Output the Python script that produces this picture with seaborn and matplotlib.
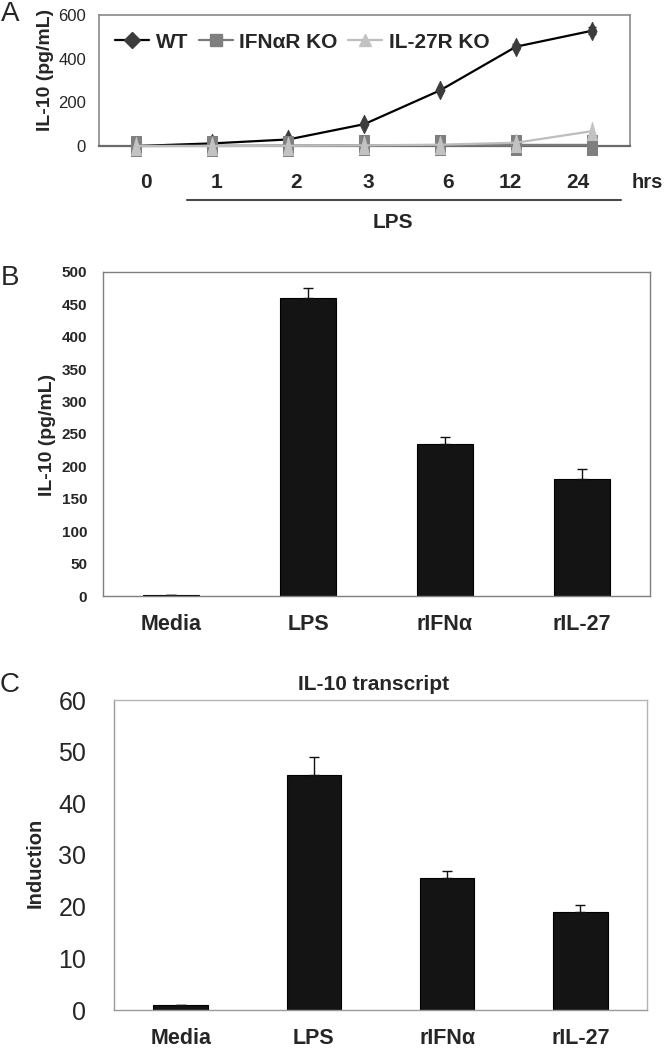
import numpy as np
import pandas as pd
import seaborn as sns
import matplotlib.pyplot as plt
from matplotlib import font_manager
from matplotlib.lines import Line2D

# ---- data ----
time_labels = ["0", "1", "2", "3", "6", "12", "24"]
strains = ["WT", "IFN\u03b1R KO", "IL-27R KO"]
il10_wt = [0, 12, 30, 100, 255, 455, 528]
il10_ifnar = [0, 1, 2, 3, 4, 5, 5]
il10_il27r = [0, 0, 1, 3, 6, 15, 68]
wt_err = [0, 0, 0, 0, 0, 10, 15]

treatments = ["Media", "LPS", "rIFN\u03b1", "rIL-27"]
protein = [2, 460, 235, 181]
protein_err = [0, 15, 10, 15]
induction = [1.0, 45.5, 25.5, 19.0]
induction_err = [0, 3.5, 1.5, 1.3]

sns.set_style("white")
names = {f.name for f in font_manager.fontManager.ttflist}
has_narrow = "Liberation Sans Narrow" in names
narrow = "Liberation Sans Narrow" if has_narrow else "Liberation Sans"
plt.rcParams["font.family"] = ["Liberation Sans", "DejaVu Sans"]

W, H = 666, 1050
fig = plt.figure(figsize=(W / 100, H / 100), dpi=100)


def ax_at(left, top, right, bottom):
    return fig.add_axes([left / W, 1 - bottom / H, (right - left) / W, (bottom - top) / H])


def ftext(x, y, s, **kw):
    fig.text(x / W, 1 - y / H, s, **kw)


def frame(ax, color, lw=1.0):
    for sp in ax.spines.values():
        sp.set_visible(True)
        sp.set_color(color)
        sp.set_linewidth(lw)


# ---------------- panel A ----------------
axA = ax_at(98.5, 15, 630, 146)
df_a = pd.DataFrame({
    "pos": np.tile(np.arange(len(time_labels)), 3),
    "il10": il10_wt + il10_ifnar + il10_il27r,
    "strain": np.repeat(strains, len(time_labels)),
})

tall_diamond = [(0, 1), (0.5, 0), (0, -1), (-0.5, 0), (0, 1)]
tall_square = [(-0.5, -1), (0.5, -1), (0.5, 1), (-0.5, 1), (-0.5, -1)]
tall_tri = [(-0.55, -1), (0.55, -1), (0, 1), (-0.55, -1)]
styles = {
    strains[0]: dict(color="black", marker=tall_diamond, markersize=13, mfc="#3c3c3c", mec="#3c3c3c"),
    strains[1]: dict(color="#7a7a7a", marker=tall_square, markersize=15, mfc="#7f7f7f", mec="#7f7f7f"),
    strains[2]: dict(color="#bdbdbd", marker=tall_tri, markersize=13, mfc="#c2c2c2", mec="#c2c2c2"),
}
for i, s in enumerate(strains):
    sub = df_a[df_a["strain"] == s]
    sns.lineplot(data=sub, x="pos", y="il10", ax=axA, errorbar=None, legend=False,
                 lw=1.6, clip_on=False, zorder=3 + i, **styles[s])
axA.errorbar(np.arange(len(time_labels)), il10_wt, yerr=wt_err, fmt="none",
             ecolor="#222222", elinewidth=1, capsize=3, zorder=2)

axA.set_xlim(-0.5, len(time_labels) - 0.5)
axA.set_ylim(0, 600)
axA.set_yticks([0, 200, 400, 600])
axA.set_xticks(np.arange(-0.5, len(time_labels), 1.0))
axA.set_xticklabels([])
axA.set_xlabel("")
axA.set_ylabel("")
frame(axA, "#8a8a8a", 1.2)
axA.spines["bottom"].set_color("#6a6a6a")
axA.spines["bottom"].set_linewidth(1.6)
axA.tick_params(axis="y", direction="out", length=5, width=1, color="#8a8a8a",
                pad=4, labelsize=13 if has_narrow else 12)
axA.tick_params(axis="x", direction="out", length=5, width=1, color="#8a8a8a")
for lab in axA.get_yticklabels():
    lab.set_family(narrow)

handles = [
    Line2D([0], [0], color="black", lw=1.6, marker="D", markersize=8, mfc="#3c3c3c", mec="#3c3c3c"),
    Line2D([0], [0], color="#7a7a7a", lw=1.6, marker="s", markersize=8, mfc="#7f7f7f", mec="#7f7f7f"),
    Line2D([0], [0], color="#bdbdbd", lw=1.6, marker="^", markersize=9, mfc="#c2c2c2", mec="#c2c2c2"),
]
axA.legend(handles, strains, ncol=3, frameon=False, loc="upper left",
           bbox_to_anchor=(0.031, 0.865), borderpad=0, borderaxespad=0,
           handlelength=1.65, handletextpad=0.3, columnspacing=0.5,
           prop={"weight": "bold", "size": 15})

label_px = [146, 216, 296, 368, 448, 510, 578]
for lab, x in zip(time_labels, label_px):
    ftext(x, 182, lab, ha="center", va="center", fontsize=15, fontweight="bold")
ftext(663, 182, "hrs", ha="right", va="center", fontsize=14.5, fontweight="bold")
fig.add_artist(Line2D([187 / W, 621 / W], [1 - 200 / H, 1 - 200 / H], color="#4a4a4a", lw=1.5))
ftext(393, 222, "LPS", ha="center", va="center", fontsize=15, fontweight="bold")
ftext(45, 70, "IL-10 (pg/mL)", rotation=90, ha="center", va="center",
      fontsize=14, fontweight="bold")


# ---------------- bar panels ----------------
def bar_panel(ax, values, errs):
    df = pd.DataFrame({"treatment": treatments, "value": values})
    sns.barplot(data=df, x="treatment", y="value", ax=ax, color="#141414",
                width=0.41, edgecolor="black", linewidth=0.8, errorbar=None,
                saturation=1)
    ax.errorbar(np.arange(len(values)), values, yerr=[np.zeros(len(errs)), errs],
                fmt="none", ecolor="#111111", elinewidth=1, capsize=3.5, capthick=1)
    ax.set_xlim(-0.5, len(values) - 0.5)
    ax.set_xlabel("")
    ax.set_ylabel("")
    ax.set_xticks(np.arange(-0.5, len(values), 1.0), minor=True)
    ax.tick_params(axis="x", which="major", length=0, pad=13, labelsize=15.5)
    ax.tick_params(axis="x", which="minor", direction="out", length=6, width=1, color="#8a8a8a")
    for lab in ax.get_xticklabels():
        lab.set_fontweight("bold")


# panel B
axB = ax_at(103, 272, 650, 596)
bar_panel(axB, protein, protein_err)
axB.set_ylim(0, 500)
axB.set_yticks(np.arange(0, 501, 50))
frame(axB, "#7f7f7f", 1.0)
axB.tick_params(axis="y", direction="out", length=5, width=1, color="#7f7f7f",
                pad=6.5, labelsize=11)
for lab in axB.get_yticklabels():
    lab.set_fontweight("bold")
ftext(47, 435, "IL-10 (pg/mL)", rotation=90, ha="center", va="center",
      fontsize=14, fontweight="bold")

# panel C
axC = ax_at(114, 700, 647, 1010)
bar_panel(axC, induction, induction_err)
axC.set_ylim(0, 60)
axC.set_yticks(np.arange(0, 61, 10))
frame(axC, "#b5b5b5", 1.0)
axC.spines["left"].set_color("#9a9a9a")
axC.spines["bottom"].set_color("#9a9a9a")
axC.tick_params(axis="y", direction="out", length=9.5, width=1, color="#9a9a9a",
                pad=10.5, labelsize=18)
ftext(35, 863, "Induction", rotation=90, ha="center", va="center",
      fontsize=14.5, fontweight="bold")
ftext(374, 684, "IL-10 transcript", ha="center", va="center",
      fontsize=15, fontweight="bold")

# panel letters
ftext(10, 14, "A", ha="center", va="center", fontsize=20)
ftext(10, 278, "B", ha="center", va="center", fontsize=20)
ftext(10, 685, "C", ha="center", va="center", fontsize=20)

fig.savefig("out.png", dpi=100)
